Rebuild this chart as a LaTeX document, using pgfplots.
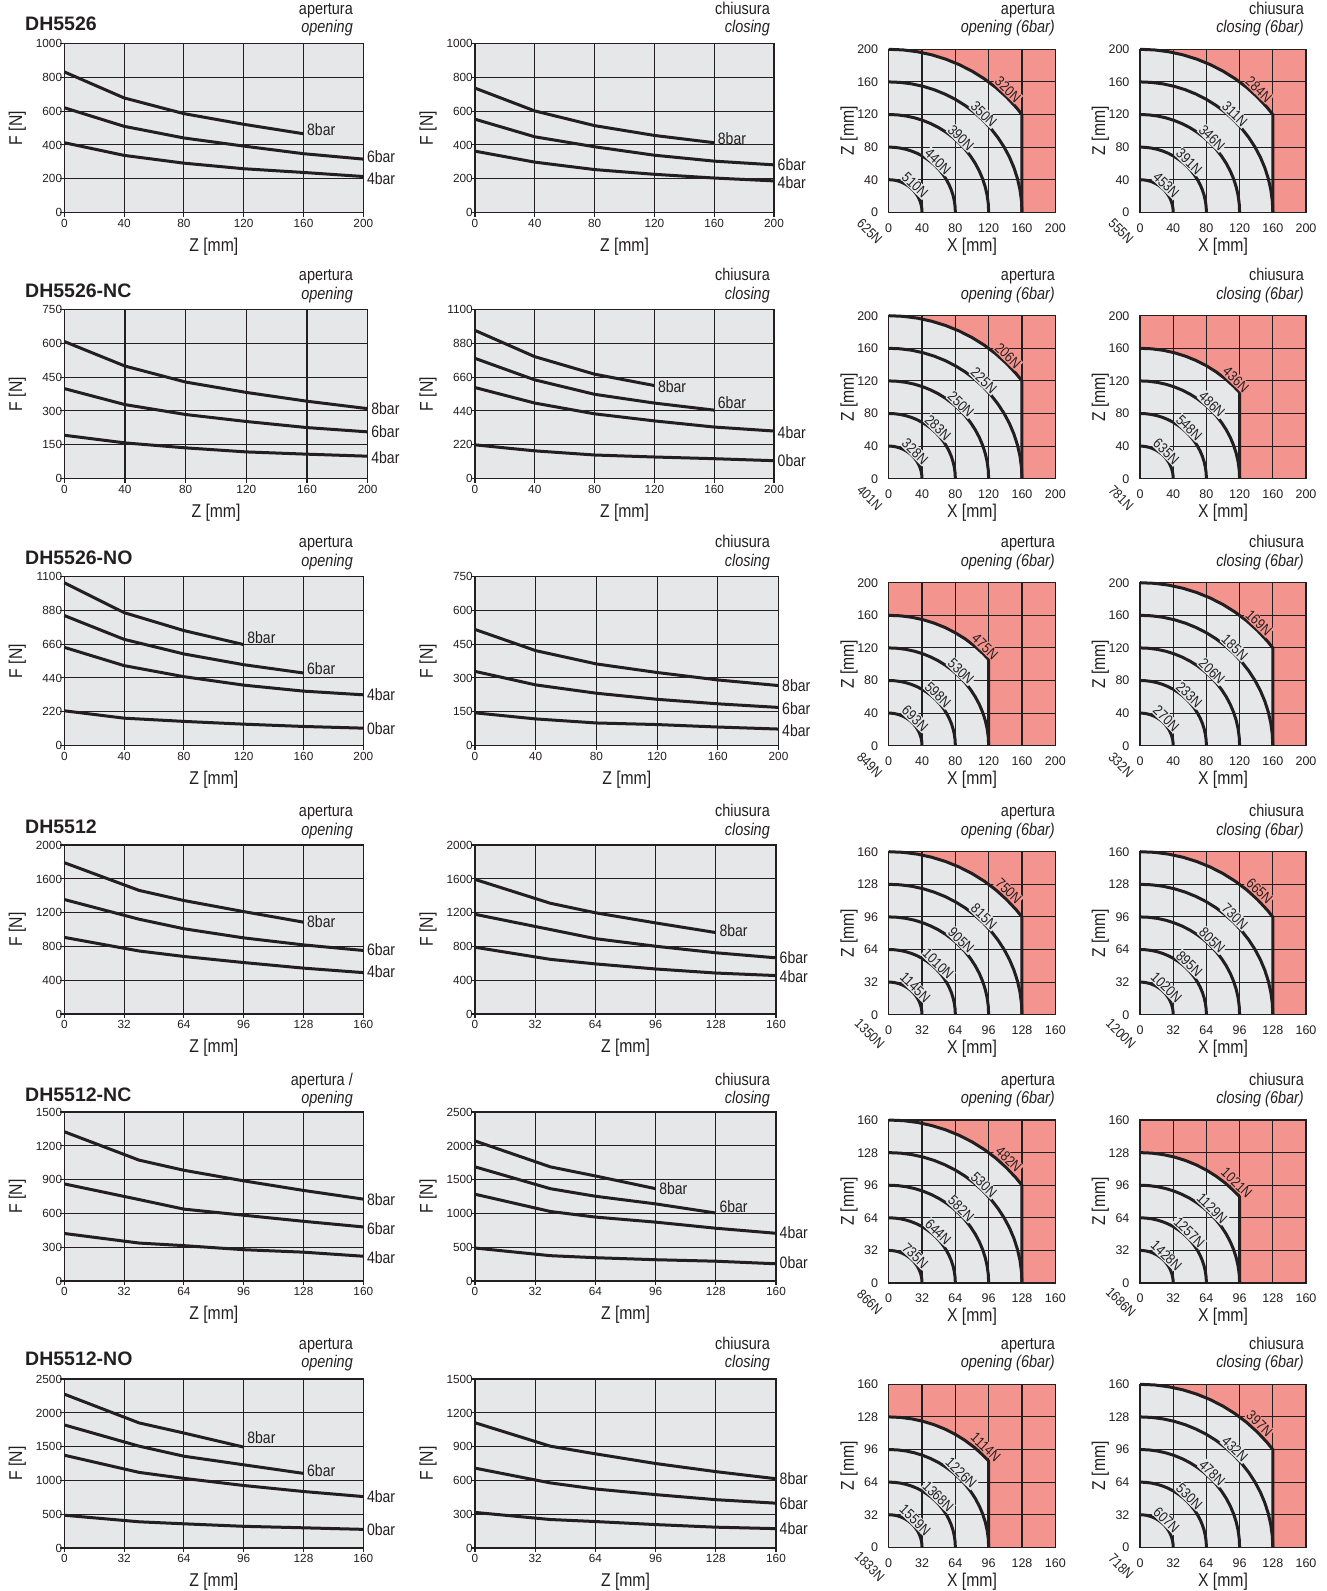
\documentclass[border=0pt]{standalone}
\usepackage{pgfplots}
\pgfplotsset{compat=1.18}
\usepackage{pgfplotstable}
\usepackage{fontspec}
\setmainfont{Liberation Sans}
\newfontfamily\cond{Liberation Sans}[FakeStretch=0.85]
\definecolor{lgray}{RGB}{230,231,232}
\definecolor{qred}{RGB}{243,149,142}
\definecolor{gridc}{RGB}{35,31,32}
\newcommand\fs[1]{\fontsize{#1}{#1}\selectfont}

\pgfplotstableread{
c s
1 0
0.99619 0.08716
0.98481 0.17365
0.96593 0.25882
0.93969 0.34202
0.90631 0.42262
0.86603 0.50000
0.81915 0.57358
0.76604 0.64279
0.70711 0.70711
0.64279 0.76604
0.57358 0.81915
0.50000 0.86603
0.42262 0.90631
0.34202 0.93969
0.25882 0.96593
0.17365 0.98481
0.08716 0.99619
0 1
}\unitarc
\pgfplotstableread{
c s
0.8 0
0.8 0.6
0.76604 0.64279
0.70711 0.70711
0.64279 0.76604
0.57358 0.81915
0.50000 0.86603
0.42262 0.90631
0.34202 0.93969
0.25882 0.96593
0.17365 0.98481
0.08716 0.99619
0 1
}\clipA
\pgfplotstableread{
c s
0.75 0
0.75 0.66144
0.70711 0.70711
0.64279 0.76604
0.57358 0.81915
0.50000 0.86603
0.42262 0.90631
0.34202 0.93969
0.25882 0.96593
0.17365 0.98481
0.08716 0.99619
0 1
}\clipB

\tikzset{
  arcst/.style={line width=3pt, draw=gridc, line join=round},
  gridst/.style={line width=1.1pt, draw=gridc},
  blab/.style={anchor=west, inner sep=0pt, xshift=3.5pt, font=\cond\fs{16.5}, text=gridc},
  alab/.style={rotate=-44, inner sep=0.8pt, font=\cond\fs{14.5}, text=gridc},
}
\pgfplotsset{
  base/.style={scale only axis, anchor=north west, xmin=0, ymin=0, clip=false,
    axis line style={line width=1.1pt, draw=gridc},
    tick pos=left,
    /pgf/number format/1000 sep={},
    /pgf/number format/assume math mode=true},
  lchart/.style={base, width=299pt, height=169pt, no markers,
    cycle list={draw=gridc,line width=3pt,mark=none,line join=round\\},
    every axis plot/.append style={draw=gridc, line width=3pt, mark=none, line join=round},
    grid=major, grid style={line width=1.1pt, draw=gridc},
    axis background/.style={fill=lgray},
    tick align=outside, major tick length=4pt,
    major tick style={line width=1.1pt, draw=gridc},
    tick label style={font=\fs{11.8}, text=gridc},
    yticklabel style={anchor=base east, inner sep=0pt, yshift=-4.2pt, xshift=2pt},
    xticklabel style={anchor=base, inner sep=0pt, yshift=-10.6pt},
    xlabel={Z [mm]}, ylabel={F [N]},
    every axis x label/.style={at={(axis description cs:0.5,0)}, anchor=base, yshift=-38.7pt, font=\cond\fs{18.5}, text=gridc, inner sep=0pt},
    every axis y label/.style={at={(axis description cs:0,0.5)}, xshift=-47pt, rotate=90, anchor=center, font=\cond\fs{18.5}, text=gridc, inner sep=0pt}},
  l200/.style={lchart, xmax=200, xtick={0,40,...,200}},
  l160/.style={lchart, xmax=160, xtick={0,32,...,160}},
  qchart/.style={base, width=166.6pt, height=163pt, major tick length=0pt,
    axis background/.style={fill=qred},
    tick label style={font=\fs{12.5}, text=gridc},
    yticklabel style={anchor=base east, inner sep=0pt, xshift=-10.4pt, yshift=-4.4pt},
    xticklabel style={anchor=base, inner sep=0pt, yshift=-19.7pt},
    xlabel={X [mm]}, ylabel={Z [mm]},
    every axis x label/.style={at={(axis description cs:0.5,0)}, anchor=base, yshift=-38.7pt, font=\cond\fs{18.5}, text=gridc, inner sep=0pt},
    every axis y label/.style={at={(axis description cs:0,0.5)}, xshift=-39.7pt, rotate=90, anchor=center, font=\cond\fs{18.5}, text=gridc, inner sep=0pt}},
  q200/.style={qchart, xmax=200, ymax=200, xtick={0,40,...,200}, ytick={0,40,...,200}},
  q160/.style={qchart, xmax=160, ymax=160, xtick={0,32,...,160}, ytick={0,32,...,160}},
}
\newcommand\gridA{%
  \addplot[gridst, no markers] coordinates {(40,0)(40,200)};
  \addplot[gridst, no markers] coordinates {(80,0)(80,200)};
  \addplot[gridst, no markers] coordinates {(120,0)(120,200)};
  \addplot[gridst, no markers] coordinates {(160,0)(160,200)};
  \addplot[gridst, no markers] coordinates {(0,40)(200,40)};
  \addplot[gridst, no markers] coordinates {(0,80)(200,80)};
  \addplot[gridst, no markers] coordinates {(0,120)(200,120)};
  \addplot[gridst, no markers] coordinates {(0,160)(200,160)};
  \addplot[gridst, no markers] coordinates {(0,0)(200,0)(200,200)(0,200)(0,0)};}
\newcommand\gridB{%
  \addplot[gridst, no markers] coordinates {(32,0)(32,160)};
  \addplot[gridst, no markers] coordinates {(64,0)(64,160)};
  \addplot[gridst, no markers] coordinates {(96,0)(96,160)};
  \addplot[gridst, no markers] coordinates {(128,0)(128,160)};
  \addplot[gridst, no markers] coordinates {(0,32)(160,32)};
  \addplot[gridst, no markers] coordinates {(0,64)(160,64)};
  \addplot[gridst, no markers] coordinates {(0,96)(160,96)};
  \addplot[gridst, no markers] coordinates {(0,128)(160,128)};
  \addplot[gridst, no markers] coordinates {(0,0)(160,0)(160,160)(0,160)(0,0)};}
\newcommand\qbg[3]{%
  \addplot[draw=none, fill=lgray, no markers] table[x expr=#1*\thisrow{c}, y expr=#1*\thisrow{s}]{#2} \closedcycle;
  #3
  \addplot[arcst, no markers] table[x expr=#1*\thisrow{c}, y expr=#1*\thisrow{s}]{#2};}
\newcommand\qarc[1]{\addplot[arcst, no markers] table[x expr=#1*\thisrow{c}, y expr=#1*\thisrow{s}]{\unitarc};}
\newcommand\al[4]{\node[alab, fill=#4] at (axis cs:#1,#2) {#3};}
\newcommand\ol[1]{\node[font=\cond\fs{14}, text=gridc, inner sep=0pt, shift={(-19pt,-19pt)}, rotate=-45] at (axis cs:0,0) {#1};}
% label positions: 200-scale inner r=R+6, outer +8 ; 160-scale inner +5, outer +7.5 (at 46.5 deg)
\newcommand\labA[5]{\al{31.6}{33.4}{#1}{lgray}\al{59.2}{62.4}{#2}{lgray}\al{86.7}{91.4}{#3}{lgray}\al{114.2}{120.4}{#4}{lgray}\al{143.1}{150.8}{#5}{qred}}
\newcommand\labAB[4]{\al{31.6}{33.4}{#1}{lgray}\al{59.2}{62.4}{#2}{lgray}\al{86.7}{91.4}{#3}{lgray}\al{115.6}{121.8}{#4}{qred}}
\newcommand\labB[5]{\al{25.5}{26.8}{#1}{lgray}\al{47.5}{50.0}{#2}{lgray}\al{69.5}{73.2}{#3}{lgray}\al{91.5}{96.4}{#4}{lgray}\al{115.2}{121.4}{#5}{qred}}
\newcommand\labBB[4]{\al{25.5}{26.8}{#1}{lgray}\al{47.5}{50.0}{#2}{lgray}\al{69.5}{73.2}{#3}{lgray}\al{93.2}{98.2}{#4}{qred}}
\newcommand\titles[5]{% y1 y2 ydh name firstline
  \node[anchor=base west, font=\bfseries\fs{19.5}, text=gridc, inner sep=0pt] at (25pt,-#3pt) {#4};
  \node[anchor=base east, font=\cond\fs{17}, text=gridc, inner sep=0pt] at (353pt,-#1pt) {#5};
  \node[anchor=base east, font=\cond\itshape\fs{17}, text=gridc, inner sep=0pt] at (353pt,-#2pt) {opening};
  \node[anchor=base east, font=\cond\fs{17}, text=gridc, inner sep=0pt] at (770pt,-#1pt) {chiusura};
  \node[anchor=base east, font=\cond\itshape\fs{17}, text=gridc, inner sep=0pt] at (770pt,-#2pt) {closing};
  \node[anchor=base east, font=\cond\fs{17}, text=gridc, inner sep=0pt] at (1055pt,-#1pt) {apertura};
  \node[anchor=base east, font=\cond\itshape\fs{17}, text=gridc, inner sep=0pt] at (1055pt,-#2pt) {opening (6bar)};
  \node[anchor=base east, font=\cond\fs{17}, text=gridc, inner sep=0pt] at (1304pt,-#1pt) {chiusura};
  \node[anchor=base east, font=\cond\itshape\fs{17}, text=gridc, inner sep=0pt] at (1304pt,-#2pt) {closing (6bar)};}

\begin{document}
\begin{tikzpicture}
\useasboundingbox (0pt,0pt) rectangle (1326pt,-1591pt);

\titles{14.3}{32.6}{30.8}{DH5526}{apertura}
\titles{280.7}{299}{297.2}{DH5526-NC}{apertura}
\titles{547.7}{566}{564.2}{DH5526-NO}{apertura}
\titles{816.7}{835}{833.2}{DH5512}{apertura}
\titles{1085}{1103.3}{1101.5}{DH5512-NC}{apertura /}
\titles{1349.3}{1367.6}{1365.8}{DH5512-NO}{apertura}

% ================= ROW 1 =================
\begin{axis}[l200, at={(64.3pt,-43.5pt)}, ymax=1000, ytick={0,200,...,1000}]
\addplot coordinates {(0,832)(40,678)(80,585)(120,522)(160,466)};
\addplot coordinates {(0,620)(40,510)(80,441)(120,393)(160,348)(200,316)};
\addplot coordinates {(0,413)(40,338)(80,292)(120,259)(160,237)(200,213)};
\node[blab] at (axis cs:160,493) {8bar};
\node[blab] at (axis cs:200,328) {6bar};
\node[blab] at (axis cs:200,201) {4bar};
\end{axis}
\begin{axis}[l200, at={(475pt,-43.5pt)}, ymax=1000, ytick={0,200,...,1000}]
\addplot coordinates {(0,736)(40,601)(80,514)(120,456)(160,413)};
\addplot coordinates {(0,552)(40,448)(80,389)(120,339)(160,304)(200,282)};
\addplot coordinates {(0,363)(40,298)(80,254)(120,226)(160,204)(200,187)};
\node[blab] at (axis cs:160,436) {8bar};
\node[blab] at (axis cs:200,284) {6bar};
\node[blab] at (axis cs:200,175) {4bar};
\end{axis}
\begin{axis}[q200, at={(888.7pt,-49.3pt)}]
\qbg{200}{\clipA}{\gridA}
\qarc{40}\qarc{80}\qarc{120}\qarc{160}
\labA{510N}{440N}{390N}{350N}{320N}
\ol{625N}
\end{axis}
\begin{axis}[q200, at={(1140pt,-49.3pt)}, width=166pt]
\qbg{200}{\clipA}{\gridA}
\qarc{40}\qarc{80}\qarc{120}\qarc{160}
\labA{453N}{391N}{346N}{311N}{284N}
\ol{555N}
\end{axis}

% ================= ROW 2 =================
\begin{axis}[l200, at={(64.3pt,-309.5pt)}, width=303.4pt, ymax=750, ytick={0,150,...,750}]
\addplot coordinates {(0,608)(40,499)(80,428)(120,382)(160,343)(200,310)};
\addplot coordinates {(0,399)(40,328)(80,284)(120,253)(160,226)(200,207)};
\addplot coordinates {(0,192)(40,158)(80,136)(120,118)(160,108)(200,99)};
\node[blab] at (axis cs:200,310) {8bar};
\node[blab] at (axis cs:200,207) {6bar};
\node[blab] at (axis cs:200,93) {4bar};
\end{axis}
\begin{axis}[l200, at={(475pt,-309.5pt)}, ymax=1100, ytick={0,220,...,1100}]
\addplot coordinates {(0,964)(40,793)(80,679)(120,605)};
\addplot coordinates {(0,782)(40,642)(80,548)(120,491)(160,445)};
\addplot coordinates {(0,592)(40,491)(80,421)(120,375)(160,335)(200,309)};
\addplot coordinates {(0,219)(40,180)(80,153)(120,140)(160,129)(200,116)};
\node[blab] at (axis cs:120,596) {8bar};
\node[blab] at (axis cs:160,493) {6bar};
\node[blab] at (axis cs:200,296) {4bar};
\node[blab] at (axis cs:200,114) {0bar};
\end{axis}
\begin{axis}[q200, at={(888.7pt,-315.7pt)}]
\qbg{200}{\clipA}{\gridA}
\qarc{40}\qarc{80}\qarc{120}\qarc{160}
\labA{328N}{283N}{250N}{225N}{206N}
\ol{401N}
\end{axis}
\begin{axis}[q200, at={(1140pt,-315.7pt)}, width=166pt]
\qbg{160}{\clipB}{\gridA}
\qarc{40}\qarc{80}\qarc{120}
\labAB{635N}{548N}{486N}{436N}
\ol{781N}
\end{axis}

% ================= ROW 3 =================
\begin{axis}[l200, at={(64.3pt,-576.5pt)}, ymax=1100, ytick={0,220,...,1100}]
\addplot coordinates {(0,1059)(40,865)(80,748)(120,657)};
\addplot coordinates {(0,846)(40,691)(80,596)(120,526)(160,472)};
\addplot coordinates {(0,639)(40,520)(80,448)(120,393)(160,354)(200,330)};
\addplot coordinates {(0,226)(40,178)(80,157)(120,139)(160,124)(200,113)};
\node[blab] at (axis cs:120,700) {8bar};
\node[blab] at (axis cs:160,498) {6bar};
\node[blab] at (axis cs:200,330) {4bar};
\node[blab] at (axis cs:200,107) {0bar};
\end{axis}
\begin{axis}[l200, at={(475pt,-576.5pt)}, width=303.5pt, ymax=750, ytick={0,150,...,750}]
\addplot coordinates {(0,515)(40,421)(80,362)(120,324)(160,291)(200,266)};
\addplot coordinates {(0,329)(40,269)(80,232)(120,205)(160,185)(200,169)};
\addplot coordinates {(0,145)(40,118)(80,100)(120,93)(160,82)(200,73)};
\node[blab] at (axis cs:200,266) {8bar};
\node[blab] at (axis cs:200,164) {6bar};
\node[blab] at (axis cs:200,64) {4bar};
\end{axis}
\begin{axis}[q200, at={(888.7pt,-582.7pt)}]
\qbg{160}{\clipB}{\gridA}
\qarc{40}\qarc{80}\qarc{120}
\labAB{693N}{598N}{530N}{475N}
\ol{849N}
\end{axis}
\begin{axis}[q200, at={(1140pt,-582.7pt)}, width=166pt]
\qbg{200}{\clipA}{\gridA}
\qarc{40}\qarc{80}\qarc{120}\qarc{160}
\labA{270N}{233N}{206N}{185N}{169N}
\ol{332N}
\end{axis}

% ================= ROW 4 =================
\begin{axis}[l160, at={(64.3pt,-845pt)}, ymax=2000, ytick={0,400,...,2000}]
\addplot coordinates {(0,1791)(40,1463)(64,1343)(96,1212)(128,1087)};
\addplot coordinates {(0,1355)(40,1122)(64,1009)(96,901)(128,818)(160,752)};
\addplot coordinates {(0,907)(40,746)(64,681)(96,609)(128,543)(160,490)};
\node[blab] at (axis cs:128,1098) {8bar};
\node[blab] at (axis cs:160,764) {6bar};
\node[blab] at (axis cs:160,501) {4bar};
\end{axis}
\begin{axis}[l160, at={(475pt,-845pt)}, width=301pt, ymax=2000, ytick={0,400,...,2000}]
\addplot coordinates {(0,1593)(40,1311)(64,1198)(96,1078)(128,964)};
\addplot coordinates {(0,1180)(40,1000)(64,892)(96,802)(128,725)(160,665)};
\addplot coordinates {(0,790)(40,647)(64,593)(96,533)(128,485)(160,455)};
\node[blab] at (axis cs:128,982) {8bar};
\node[blab] at (axis cs:160,665) {6bar};
\node[blab] at (axis cs:160,443) {4bar};
\end{axis}
\begin{axis}[q160, at={(888.7pt,-851.7pt)}]
\qbg{160}{\clipA}{\gridB}
\qarc{32}\qarc{64}\qarc{96}\qarc{128}
\labB{1145N}{1010N}{905N}{815N}{750N}
\ol{1350N}
\end{axis}
\begin{axis}[q160, at={(1140pt,-851.7pt)}, width=166pt]
\qbg{160}{\clipA}{\gridB}
\qarc{32}\qarc{64}\qarc{96}\qarc{128}
\labB{1020N}{895N}{805N}{730N}{665N}
\ol{1200N}
\end{axis}

% ================= ROW 5 =================
\begin{axis}[l160, at={(64.3pt,-1112pt)}, ymax=1500, ytick={0,300,...,1500}]
\addplot coordinates {(0,1325)(40,1073)(64,983)(96,889)(128,804)(160,727)};
\addplot coordinates {(0,862)(40,723)(64,638)(96,584)(128,530)(160,480)};
\addplot coordinates {(0,422)(40,337)(64,314)(96,278)(128,256)(160,220)};
\node[blab] at (axis cs:160,727) {8bar};
\node[blab] at (axis cs:160,467) {6bar};
\node[blab] at (axis cs:160,207) {4bar};
\end{axis}
\begin{axis}[l160, at={(475pt,-1112pt)}, width=301pt, ymax=2500, ytick={0,500,...,2500}]
\addplot coordinates {(0,2072)(40,1689)(64,1554)(96,1366)};
\addplot coordinates {(0,1689)(40,1366)(64,1254)(96,1141)(128,1006)};
\addplot coordinates {(0,1284)(40,1029)(64,946)(96,871)(128,781)(160,706)};
\addplot coordinates {(0,488)(40,375)(64,345)(96,315)(128,293)(160,255)};
\node[blab] at (axis cs:96,1366) {8bar};
\node[blab] at (axis cs:128,1104) {6bar};
\node[blab] at (axis cs:160,721) {4bar};
\node[blab] at (axis cs:160,270) {0bar};
\end{axis}
\begin{axis}[q160, at={(888.7pt,-1120pt)}]
\qbg{160}{\clipA}{\gridB}
\qarc{32}\qarc{64}\qarc{96}\qarc{128}
\labB{735N}{644N}{582N}{530N}{482N}
\ol{866N}
\end{axis}
\begin{axis}[q160, at={(1140pt,-1120pt)}, width=166pt]
\qbg{128}{\clipB}{\gridB}
\qarc{32}\qarc{64}\qarc{96}
\labBB{1428N}{1257N}{1129N}{1021N}
\ol{1686N}
\end{axis}

% ================= ROW 6 =================
\begin{axis}[l160, at={(64.3pt,-1379pt)}, ymax=2500, ytick={0,500,...,2500}]
\addplot coordinates {(0,2276)(40,1851)(64,1701)(96,1493)};
\addplot coordinates {(0,1821)(40,1507)(64,1358)(96,1231)(128,1104)};
\addplot coordinates {(0,1373)(40,1119)(64,1030)(96,925)(128,836)(160,761)};
\addplot coordinates {(0,485)(40,388)(64,358)(96,321)(128,299)(160,276)};
\node[blab] at (axis cs:96,1627) {8bar};
\node[blab] at (axis cs:128,1149) {6bar};
\node[blab] at (axis cs:160,761) {4bar};
\node[blab] at (axis cs:160,276) {0bar};
\end{axis}
\begin{axis}[l160, at={(475pt,-1379pt)}, width=301pt, ymax=1500, ytick={0,300,...,1500}]
\addplot coordinates {(0,1112)(40,904)(64,836)(96,750)(128,678)(160,615)};
\addplot coordinates {(0,709)(40,578)(64,524)(96,474)(128,429)(160,398)};
\addplot coordinates {(0,316)(40,253)(64,235)(96,208)(128,185)(160,172)};
\node[blab] at (axis cs:160,615) {8bar};
\node[blab] at (axis cs:160,398) {6bar};
\node[blab] at (axis cs:160,172) {4bar};
\end{axis}
\begin{axis}[q160, at={(888.7pt,-1384.3pt)}]
\qbg{128}{\clipB}{\gridB}
\qarc{32}\qarc{64}\qarc{96}
\labBB{1559N}{1368N}{1226N}{1114N}
\ol{1833N}
\end{axis}
\begin{axis}[q160, at={(1140pt,-1384.3pt)}, width=166pt]
\qbg{160}{\clipA}{\gridB}
\qarc{32}\qarc{64}\qarc{96}\qarc{128}
\labB{607N}{530N}{478N}{432N}{397N}
\ol{718N}
\end{axis}
\end{tikzpicture}
\end{document}
